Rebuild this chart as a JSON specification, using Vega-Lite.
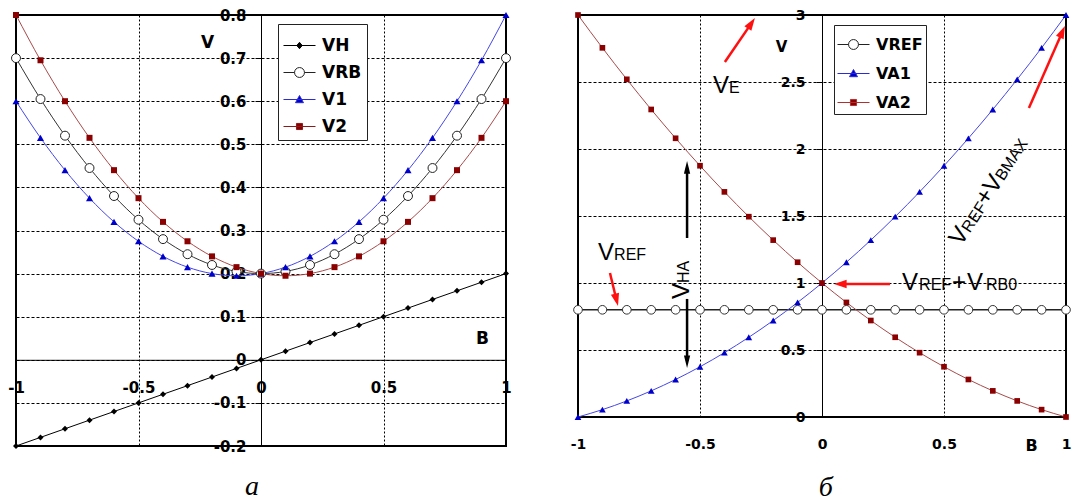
{
  "$schema": "https://vega.github.io/schema/vega-lite/v6.json",
  "background": "white",
  "padding": {"left": 6, "top": 7, "right": 5, "bottom": 2},
  "spacing": 72,
  "bounds": "flush",
  "resolve": {
    "scale": {"shape": "independent", "fill": "independent", "stroke": "independent", "x": "independent", "y": "independent"},
    "legend": {"shape": "independent", "fill": "independent", "stroke": "independent"}
  },
  "config": {
    "view": {"stroke": "black", "strokeWidth": 2},
    "font": "DejaVu Sans",
    "axis": {
      "grid": true, "gridColor": "black", "gridOpacity": 1, "gridWidth": 1,
      "domain": true, "domainColor": "black", "domainWidth": 1,
      "labelFont": "DejaVu Sans", "labelFontWeight": "bold", "labelColor": "black",
      "labelFlush": false, "labelOverlap": false, "labelBound": false,
      "titleFont": "DejaVu Sans", "titleFontWeight": "bold", "titleColor": "black",
      "titleAngle": 0, "titleAlign": "center", "titleBaseline": "middle",
      "tickColor": "black", "zindex": 1, "format": "~g",
      "labelExpr": "replace(datum.label, '−', '-')"
    },
    "legend": {
      "orient": "none", "title": null, "padding": 5, "strokeColor": "#222", "fillColor": "white",
      "symbolSize": 1024, "symbolStrokeWidth": 1, "symbolOpacity": 1,
      "labelFont": "DejaVu Sans", "labelFontWeight": "bold", "labelColor": "black",
      "labelOffset": 6
    }
  },
  "datasets": {
    "left": [
      {"B": -1, "VH": -0.2, "VRB": 0.7, "V1": 0.6, "V2": 0.8},
      {"B": -0.9, "VH": -0.18, "VRB": 0.605, "V1": 0.515, "V2": 0.695},
      {"B": -0.8, "VH": -0.16, "VRB": 0.52, "V1": 0.44, "V2": 0.6},
      {"B": -0.7, "VH": -0.14, "VRB": 0.445, "V1": 0.375, "V2": 0.515},
      {"B": -0.6, "VH": -0.12, "VRB": 0.38, "V1": 0.32, "V2": 0.44},
      {"B": -0.5, "VH": -0.1, "VRB": 0.325, "V1": 0.275, "V2": 0.375},
      {"B": -0.4, "VH": -0.08, "VRB": 0.28, "V1": 0.24, "V2": 0.32},
      {"B": -0.3, "VH": -0.06, "VRB": 0.245, "V1": 0.215, "V2": 0.275},
      {"B": -0.2, "VH": -0.04, "VRB": 0.22, "V1": 0.2, "V2": 0.24},
      {"B": -0.1, "VH": -0.02, "VRB": 0.205, "V1": 0.195, "V2": 0.215},
      {"B": 0, "VH": 0, "VRB": 0.2, "V1": 0.2, "V2": 0.2},
      {"B": 0.1, "VH": 0.02, "VRB": 0.205, "V1": 0.215, "V2": 0.195},
      {"B": 0.2, "VH": 0.04, "VRB": 0.22, "V1": 0.24, "V2": 0.2},
      {"B": 0.3, "VH": 0.06, "VRB": 0.245, "V1": 0.275, "V2": 0.215},
      {"B": 0.4, "VH": 0.08, "VRB": 0.28, "V1": 0.32, "V2": 0.24},
      {"B": 0.5, "VH": 0.1, "VRB": 0.325, "V1": 0.375, "V2": 0.275},
      {"B": 0.6, "VH": 0.12, "VRB": 0.38, "V1": 0.44, "V2": 0.32},
      {"B": 0.7, "VH": 0.14, "VRB": 0.445, "V1": 0.515, "V2": 0.375},
      {"B": 0.8, "VH": 0.16, "VRB": 0.52, "V1": 0.6, "V2": 0.44},
      {"B": 0.9, "VH": 0.18, "VRB": 0.605, "V1": 0.695, "V2": 0.515},
      {"B": 1, "VH": 0.2, "VRB": 0.7, "V1": 0.8, "V2": 0.6}
    ],
    "right": [
      {"B": -1, "VREF": 0.8, "VA1": 0, "VA2": 3},
      {"B": -0.9, "VREF": 0.8, "VA1": 0.055, "VA2": 2.755},
      {"B": -0.8, "VREF": 0.8, "VA1": 0.12, "VA2": 2.52},
      {"B": -0.7, "VREF": 0.8, "VA1": 0.195, "VA2": 2.295},
      {"B": -0.6, "VREF": 0.8, "VA1": 0.28, "VA2": 2.08},
      {"B": -0.5, "VREF": 0.8, "VA1": 0.375, "VA2": 1.875},
      {"B": -0.4, "VREF": 0.8, "VA1": 0.48, "VA2": 1.68},
      {"B": -0.3, "VREF": 0.8, "VA1": 0.595, "VA2": 1.495},
      {"B": -0.2, "VREF": 0.8, "VA1": 0.72, "VA2": 1.32},
      {"B": -0.1, "VREF": 0.8, "VA1": 0.855, "VA2": 1.155},
      {"B": 0, "VREF": 0.8, "VA1": 1, "VA2": 1},
      {"B": 0.1, "VREF": 0.8, "VA1": 1.155, "VA2": 0.855},
      {"B": 0.2, "VREF": 0.8, "VA1": 1.32, "VA2": 0.72},
      {"B": 0.3, "VREF": 0.8, "VA1": 1.495, "VA2": 0.595},
      {"B": 0.4, "VREF": 0.8, "VA1": 1.68, "VA2": 0.48},
      {"B": 0.5, "VREF": 0.8, "VA1": 1.875, "VA2": 0.375},
      {"B": 0.6, "VREF": 0.8, "VA1": 2.08, "VA2": 0.28},
      {"B": 0.7, "VREF": 0.8, "VA1": 2.295, "VA2": 0.195},
      {"B": 0.8, "VREF": 0.8, "VA1": 2.52, "VA2": 0.12},
      {"B": 0.9, "VREF": 0.8, "VA1": 2.755, "VA2": 0.055},
      {"B": 1, "VREF": 0.8, "VA1": 3, "VA2": 0}
    ]
  },
  "hconcat": [
    {
      "width": 490,
      "height": 431,
      "data": {"name": "left"},
      "encoding": {
        "x": {"field": "B", "type": "quantitative",
          "scale": {"domain": [-1, 1], "nice": false, "zero": false},
          "axis": {"values": [-1, -0.5, 0, 0.5, 1], "offset": -86.2, "gridDash": [2, 2],
            "ticks": false, "labelPadding": 21, "labelFont": "DejaVu Sans", "labelFontWeight": "bold", "labelFontSize": 15,
            "title": "B", "titleFont": "DejaVu Sans", "titleFontSize": 17, "titleX": 466, "titleY": -21}},
        "y": {"field": "V", "type": "quantitative",
          "scale": {"domain": [-0.2, 0.8], "nice": false, "zero": false},
          "axis": {"values": [-0.2, -0.1, 0, 0.1, 0.2, 0.3, 0.4, 0.5, 0.6, 0.7, 0.8], "offset": -245,
            "gridDash": [3, 2], "ticks": true, "tickSize": 6, "labelPadding": 9,
            "labelFont": "DejaVu Sans", "labelFontWeight": "bold", "labelFontSize": 15,
            "title": "V", "titleFont": "DejaVu Sans", "titleFontSize": 17, "titleX": -54, "titleY": 27}}
      },
      "layer": [
        {"transform": [{"fold": ["VH"], "as": ["s", "V"]}],
          "mark": {"type": "line", "color": "black", "strokeWidth": 1, "interpolate": "monotone"}},
        {"transform": [{"fold": ["VRB"], "as": ["s", "V"]}],
          "mark": {"type": "line", "color": "#333333", "strokeWidth": 1, "interpolate": "monotone"}},
        {"transform": [{"fold": ["V1"], "as": ["s", "V"]}],
          "mark": {"type": "line", "color": "#4646e6", "strokeWidth": 1, "interpolate": "monotone"}},
        {"transform": [{"fold": ["V2"], "as": ["s", "V"]}],
          "mark": {"type": "line", "color": "#a84a4a", "strokeWidth": 1, "interpolate": "monotone"}},
        {"transform": [{"fold": ["VH"], "as": ["s", "V"]}],
          "mark": {"type": "point", "shape": "diamond", "filled": true, "color": "black", "size": 36, "opacity": 1}},
        {"transform": [{"fold": ["VRB"], "as": ["s", "V"]}],
          "mark": {"type": "point", "shape": "circle", "filled": true, "fill": "white", "stroke": "#222222", "strokeWidth": 1, "size": 80, "opacity": 1}},
        {"transform": [{"fold": ["V1"], "as": ["s", "V"]}],
          "mark": {"type": "point", "shape": "triangle-up", "filled": true, "color": "#0000cc", "size": 50, "opacity": 1}},
        {"transform": [{"fold": ["V2"], "as": ["s", "V"]}],
          "mark": {"type": "point", "shape": "square", "filled": true, "color": "#8b0000", "size": 36, "opacity": 1}},
        {"transform": [{"fold": ["VH", "VRB", "V1", "V2"], "as": ["s", "V"]}],
          "mark": {"type": "point", "filled": true, "opacity": 0},
          "encoding": {
            "shape": {"field": "s", "type": "nominal",
              "scale": {"domain": ["VH", "VRB", "V1", "V2"],
                "range": ["M-1,0H1M0,-0.2L0.17,0L0,0.2L-0.17,0Z",
                  "M-1,0H-0.31M0.31,0H1M0.31,0A0.31,0.31,0,1,1,-0.31,0A0.31,0.31,0,1,1,0.31,0Z",
                  "M-1,0H1M0,-0.25L0.25,0.2H-0.25Z",
                  "M-1,0H1M-0.19,-0.19H0.19V0.19H-0.19Z"]},
              "legend": {"legendX": 262, "legendY": 9, "labelFontSize": 17, "rowPadding": 2, "padding": 5}},
            "fill": {"field": "s", "type": "nominal",
              "scale": {"domain": ["VH", "VRB", "V1", "V2"], "range": ["black", "white", "#0000cc", "#8b0000"]}},
            "stroke": {"field": "s", "type": "nominal",
              "scale": {"domain": ["VH", "VRB", "V1", "V2"], "range": ["black", "#222222", "#2a2ad8", "#8b1a1a"]}}
          }},
        {"data": {"values": [{"B": -0.037, "V": -0.314, "t": "а"}]},
          "mark": {"type": "text", "font": "Liberation Serif", "fontStyle": "italic", "fontSize": 28, "align": "center", "baseline": "alphabetic", "color": "black"},
          "encoding": {"text": {"field": "t"}}}
      ]
    },
    {
      "width": 488,
      "height": 402,
      "data": {"name": "right"},
      "encoding": {
        "x": {"field": "B", "type": "quantitative",
          "scale": {"domain": [-1, 1], "nice": false, "zero": false},
          "axis": {"values": [-1, -0.5, 0, 0.5, 1], "offset": 0, "gridDash": [2, 2],
            "ticks": false, "labelPadding": 20, "labelFont": "DejaVu Sans", "labelFontWeight": "bold", "labelFontSize": 14,
            "title": "B", "titleFont": "DejaVu Sans", "titleFontSize": 16, "titleX": 453, "titleY": 28}},
        "y": {"field": "V", "type": "quantitative",
          "scale": {"domain": [0, 3], "nice": false, "zero": false},
          "axis": {"values": [0, 0.5, 1, 1.5, 2, 2.5, 3], "offset": -244,
            "gridDash": [3, 2], "ticks": true, "tickSize": 6, "labelPadding": 11,
            "labelFont": "DejaVu Sans", "labelFontWeight": "bold", "labelFontSize": 14,
            "title": "V", "titleFont": "DejaVu Sans", "titleFontSize": 15, "titleX": -41, "titleY": 31}}
      },
      "layer": [
        {"transform": [{"fold": ["VREF"], "as": ["s", "V"]}],
          "mark": {"type": "line", "color": "#222222", "strokeWidth": 1.5}},
        {"transform": [{"fold": ["VA1"], "as": ["s", "V"]}],
          "mark": {"type": "line", "color": "#4646e6", "strokeWidth": 1, "interpolate": "monotone"}},
        {"transform": [{"fold": ["VA2"], "as": ["s", "V"]}],
          "mark": {"type": "line", "color": "#a84a4a", "strokeWidth": 1, "interpolate": "monotone"}},
        {"transform": [{"fold": ["VREF"], "as": ["s", "V"]}],
          "mark": {"type": "point", "shape": "circle", "filled": true, "fill": "white", "stroke": "#333333", "strokeWidth": 1, "size": 75, "opacity": 1}},
        {"transform": [{"fold": ["VA1"], "as": ["s", "V"]}],
          "mark": {"type": "point", "shape": "triangle-up", "filled": true, "color": "#0000cc", "size": 45, "opacity": 1}},
        {"transform": [{"fold": ["VA2"], "as": ["s", "V"]}],
          "mark": {"type": "point", "shape": "square", "filled": true, "color": "#8b0000", "size": 32, "opacity": 1}},
        {"transform": [{"fold": ["VREF", "VA1", "VA2"], "as": ["s", "V"]}],
          "mark": {"type": "point", "filled": true, "opacity": 0},
          "encoding": {
            "shape": {"field": "s", "type": "nominal",
              "scale": {"domain": ["VREF", "VA1", "VA2"],
                "range": ["M-1,0H-0.31M0.31,0H1M0.31,0A0.31,0.31,0,1,1,-0.31,0A0.31,0.31,0,1,1,0.31,0Z",
                  "M-1,0H1M0,-0.25L0.25,0.2H-0.25Z",
                  "M-1,0H1M-0.19,-0.19H0.19V0.19H-0.19Z"]},
              "legend": {"legendX": 256, "legendY": 10, "labelFontSize": 16, "rowPadding": 4, "padding": 3}},
            "fill": {"field": "s", "type": "nominal",
              "scale": {"domain": ["VREF", "VA1", "VA2"], "range": ["white", "#0000cc", "#8b0000"]}},
            "stroke": {"field": "s", "type": "nominal",
              "scale": {"domain": ["VREF", "VA1", "VA2"], "range": ["#222222", "#2a2ad8", "#b03030"]}}
          }},
        {"data": {"values": [
            {"B": -0.398, "V": 2.649, "B2": -0.291, "V2": 2.934},
            {"B": -0.869, "V": 1.075, "B2": -0.843, "V2": 0.879},
            {"B": 0.279, "V": 0.993, "B2": 0.078, "V2": 0.993},
            {"B": 0.848, "V": 2.306, "B2": 0.984, "V2": 2.87}]},
          "mark": {"type": "rule", "color": "#ff1010", "strokeWidth": 2.5},
          "encoding": {"x2": {"field": "B2"}, "y2": {"field": "V2"}}},
        {"data": {"values": [
            {"B": -0.553, "V": 1.336, "B2": -0.553, "V2": 1.86},
            {"B": -0.553, "V": 0.881, "B2": -0.553, "V2": 0.418}]},
          "mark": {"type": "rule", "color": "black", "strokeWidth": 2.5},
          "encoding": {"x2": {"field": "B2"}, "y2": {"field": "V2"}}},
        {"data": {"values": [{"B": -0.291, "V": 2.934}]},
          "mark": {"type": "point", "shape": "M0,-1L0.6,0.8H-0.6Z", "angle": 34, "filled": true, "color": "#ff1010", "size": 196, "opacity": 1}},
        {"data": {"values": [{"B": -0.843, "V": 0.879}]},
          "mark": {"type": "point", "shape": "M0,-1L0.6,0.8H-0.6Z", "angle": 166, "filled": true, "color": "#ff1010", "size": 196, "opacity": 1}},
        {"data": {"values": [{"B": 0.078, "V": 0.993}]},
          "mark": {"type": "point", "shape": "M0,-1L0.6,0.8H-0.6Z", "angle": 270, "filled": true, "color": "#ff1010", "size": 196, "opacity": 1}},
        {"data": {"values": [{"B": 0.984, "V": 2.87}]},
          "mark": {"type": "point", "shape": "M0,-1L0.6,0.8H-0.6Z", "angle": 24, "filled": true, "color": "#ff1010", "size": 196, "opacity": 1}},
        {"data": {"values": [{"B": -0.553, "V": 1.858}]},
          "mark": {"type": "point", "shape": "M0,-1L0.45,0.8H-0.45Z", "angle": 0, "filled": true, "color": "black", "size": 196, "opacity": 1}},
        {"data": {"values": [{"B": -0.553, "V": 0.418}]},
          "mark": {"type": "point", "shape": "M0,-1L0.45,0.8H-0.45Z", "angle": 180, "filled": true, "color": "black", "size": 196, "opacity": 1}},
        {"data": {"values": [
            {"B": -0.447, "V": 2.418, "t": "V"},
            {"B": -0.918, "V": 1.172, "t": "V"},
            {"B": 0.328, "V": 0.948, "t": "V"},
            {"B": 0.533, "V": 0.948, "t": "+"},
            {"B": 0.594, "V": 0.948, "t": "V"}]},
          "mark": {"type": "text", "font": "Liberation Sans", "fontSize": 24, "align": "left", "baseline": "alphabetic", "color": "black"},
          "encoding": {"text": {"field": "t"}}},
        {"data": {"values": [
            {"B": -0.381, "V": 2.418, "t": "E"},
            {"B": -0.852, "V": 1.172, "t": "REF"},
            {"B": 0.398, "V": 0.948, "t": "REF"},
            {"B": 0.672, "V": 0.948, "t": "RB0"}]},
          "mark": {"type": "text", "font": "Liberation Sans", "fontSize": 16, "align": "left", "baseline": "alphabetic", "color": "black"},
          "encoding": {"text": {"field": "t"}}},
        {"data": {"values": [
            {"B": 0.57, "V": 1.27, "t": "V"},
            {"B": 0.677, "V": 1.571, "t": "+"},
            {"B": 0.709, "V": 1.658, "t": "V"}]},
          "mark": {"type": "text", "font": "Liberation Sans", "fontSize": 24, "align": "left", "baseline": "alphabetic", "angle": -57, "color": "black"},
          "encoding": {"text": {"field": "t"}}},
        {"data": {"values": [
            {"B": 0.606, "V": 1.37, "t": "REF"},
            {"B": 0.744, "V": 1.758, "t": "BMAX"}]},
          "mark": {"type": "text", "font": "Liberation Sans", "fontSize": 16, "align": "left", "baseline": "alphabetic", "angle": -57, "color": "black"},
          "encoding": {"text": {"field": "t"}}},
        {"data": {"values": [{"B": -0.545, "V": 0.881, "t": "V"}]},
          "mark": {"type": "text", "font": "Liberation Sans", "fontSize": 24, "align": "left", "baseline": "alphabetic", "angle": 270, "color": "black"},
          "encoding": {"text": {"field": "t"}}},
        {"data": {"values": [{"B": -0.545, "V": 1.0, "t": "HA"}]},
          "mark": {"type": "text", "font": "Liberation Sans", "fontSize": 16, "align": "left", "baseline": "alphabetic", "angle": 270, "color": "black"},
          "encoding": {"text": {"field": "t"}}},
        {"data": {"values": [{"B": 0.016, "V": -0.59, "t": "б"}]},
          "mark": {"type": "text", "font": "Liberation Serif", "fontStyle": "italic", "fontSize": 28, "align": "center", "baseline": "alphabetic", "color": "black"},
          "encoding": {"text": {"field": "t"}}}
      ]
    }
  ]
}
